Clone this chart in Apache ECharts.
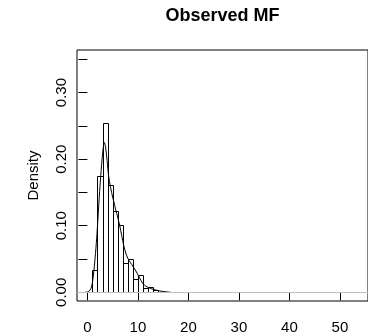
<!DOCTYPE html>
<html>
<head>
<meta charset="utf-8">
<script src="https://cdn.jsdelivr.net/npm/echarts@6/dist/echarts.min.js"></script>
<style>
html,body{margin:0;padding:0;background:#fff;}
#chart{width:368px;height:336px;}
</style>
</head>
<body>
<div id="chart"></div>
<script>
// Histogram bins (width 1) and densities
var binStarts = [1, 2, 3, 4, 5, 6, 7, 8, 9, 10, 11, 12, 13, 14];
var binEnds   = [2, 3, 4, 5, 6, 7, 8, 9, 10, 11, 12, 13, 14, 15];
var binDensity = [0.0335, 0.1745, 0.2545, 0.161, 0.1215, 0.1005, 0.0445, 0.0495, 0.020, 0.026, 0.006, 0.0085, 0.003, 0.001];

// Kernel density curve (x, density)
var densX = [-0.5, 0, 0.5, 0.8, 1.0, 1.3, 1.6, 1.9, 2.2, 2.5, 2.8, 3.1, 3.35, 3.6, 3.9, 4.2, 4.6, 5.0, 5.2, 5.6, 6.0, 6.4, 6.8, 7.2, 7.6, 8.0, 8.5, 9.1, 9.6, 10.1, 10.6, 11.0, 11.6, 12.3, 13.0, 13.6, 14.3, 15.3, 16.0, 16.5];
var densY = [0, 0.0005, 0.003, 0.008, 0.015, 0.033, 0.058, 0.088, 0.125, 0.16, 0.19, 0.215, 0.225, 0.218, 0.198, 0.175, 0.157, 0.143, 0.137, 0.124, 0.113, 0.100, 0.085, 0.070, 0.059, 0.051, 0.045, 0.038, 0.032, 0.025, 0.018, 0.013, 0.009, 0.0065, 0.0045, 0.0033, 0.002, 0.001, 0.0003, 0];

var xTicks = [0, 10, 20, 30, 40, 50];
var yTicks = [0, 0.05, 0.10, 0.15, 0.20, 0.25, 0.30, 0.35];
var yLabels = [0, 0.10, 0.20, 0.30];

var titleText = 'Observed MF';
var yName = 'Density';

var FONT = '"Liberation Sans", Arial, Helvetica, sans-serif';

var chart = echarts.init(document.getElementById('chart'), null, {renderer: 'canvas'});

var barData = binStarts.map(function (s, i) { return [s, binEnds[i], binDensity[i]]; });
var lineData = densX.map(function (x, i) { return [x, densY[i]]; });

var option = {
  animation: false,
  backgroundColor: '#fff',
  graphic: [{
    type: 'text',
    x: 222.5,
    y: 16,
    style: {
      text: titleText,
      font: 'bold 18px ' + FONT,
      fill: '#000',
      align: 'center',
      verticalAlign: 'middle'
    }
  }],
  grid: {
    left: 77, top: 50, right: -3, bottom: 35,
    show: true, borderColor: '#000', borderWidth: 1, backgroundColor: 'transparent'
  },
  xAxis: {
    type: 'value',
    min: -2.057, max: 55.55,
    axisLine: {show: false},
    splitLine: {show: false},
    axisTick: {show: true, length: 8, customValues: xTicks, lineStyle: {color: '#000', width: 1}},
    axisLabel: {
      customValues: xTicks, margin: 19,
      fontFamily: FONT, fontSize: 15, color: '#000',
      formatter: function (v) { return String(v); }
    }
  },
  yAxis: {
    type: 'value',
    min: -0.01307, max: 0.364,
    name: yName,
    nameLocation: 'middle',
    nameGap: 36,
    nameRotate: 90,
    nameTextStyle: {fontFamily: FONT, fontSize: 15, color: '#000'},
    axisLine: {show: false},
    splitLine: {show: false},
    axisTick: {show: true, length: 9, customValues: yTicks, lineStyle: {color: '#000', width: 1}},
    axisLabel: {
      customValues: yLabels, rotate: 90, margin: 8,
      fontFamily: FONT, fontSize: 15, color: '#000',
      formatter: function (v) { return v.toFixed(2); }
    }
  },
  series: [
    {
      type: 'custom',
      data: barData,
      renderItem: function (params, api) {
        var p0 = api.coord([api.value(0), 0]);
        var p1 = api.coord([api.value(1), api.value(2)]);
        var x0 = Math.round(p0[0]) + 0.5, x1 = Math.round(p1[0]) + 0.5;
        var yb = Math.round(p0[1]) + 0.5, yt = Math.round(p1[1]) + 0.5;
        return {
          type: 'rect',
          shape: {x: x0, y: yt, width: x1 - x0, height: yb - yt},
          style: {fill: 'none', stroke: '#000', lineWidth: 1}
        };
      },
      z: 2
    },
    {
      type: 'line',
      data: lineData,
      smooth: 0.3,
      showSymbol: false,
      lineStyle: {color: '#000', width: 1},
      z: 3,
      markLine: {
        silent: true,
        symbol: ['none', 'none'],
        label: {show: false},
        lineStyle: {color: '#bebebe', width: 1, type: 'solid'},
        data: [{yAxis: 0}]
      }
    }
  ]
};
chart.setOption(option);
</script>
</body>
</html>
